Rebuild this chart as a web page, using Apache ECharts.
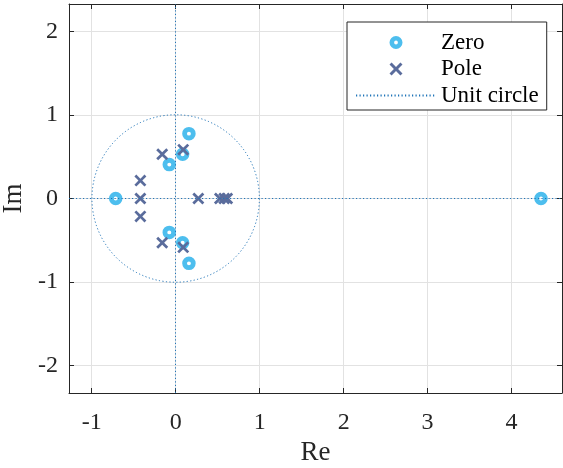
<!DOCTYPE html>
<html>
<head>
<meta charset="utf-8">
<title>Zero-pole plot</title>
<script src="https://cdn.jsdelivr.net/npm/echarts@6.0.0/dist/echarts.min.js"></script>
<style>
  html, body { margin: 0; padding: 0; background: #fff; }
  #chart { width: 563px; height: 468px; }
</style>
</head>
<body>
<div id="chart"></div>
<script>
// zeros
var zeroRe = [4.35, -0.714, -0.076, -0.076, 0.083, 0.083, 0.158, 0.158];
var zeroIm = [0, 0, 0.406, -0.406, 0.53, -0.53, 0.777, -0.777];
// poles
var poleRe = [0.09, 0.09, -0.16, -0.16, -0.42, -0.42, -0.42, 0.27, 0.527, 0.578, 0.614];
var poleIm = [0.585, -0.585, 0.53, -0.53, 0.215, -0.215, 0, 0, 0, 0, 0];
// axis limits and ticks
var xLim = [-1.27, 4.6];
var yLim = [-2.33, 2.33];
var xTicks = [-1, 0, 1, 2, 3, 4];
var yTicks = [-2, -1, 0, 1, 2];
var legendNames = ['Zero', 'Pole', 'Unit circle'];

var font = 'Liberation Serif';
var axisColor = '#262626';
var circleColor = '#1f74b8';
var zeroColor = '#4DBEEE';
var poleColor = '#5A6C9C';
// ring with a small hole, and a thick cross
var ringPath = 'path://M0,6.5A6.5,6.5,0,1,1,13,6.5A6.5,6.5,0,1,1,0,6.5ZM4.6,6.5A1.9,1.9,0,1,0,8.4,6.5A1.9,1.9,0,1,0,4.6,6.5Z';
var crossPath = 'path://M0,1.6L1.6,0L5,3.4L8.4,0L10,1.6L6.6,5L10,8.4L8.4,10L5,6.6L1.6,10L0,8.4L3.4,5Z';

function zip(a, b) {
  var out = [];
  for (var i = 0; i < a.length; i++) out.push([a[i], b[i]]);
  return out;
}

function mainAxis(lim, ticks, pos, nameText, nameGap, labelMargin) {
  return {
    type: 'value',
    position: pos,
    min: lim[0],
    max: lim[1],
    minInterval: 1,
    maxInterval: 1,
    splitNumber: ticks.length,
    name: nameText,
    nameLocation: 'middle',
    nameGap: nameGap,
    nameTextStyle: { fontFamily: font, fontSize: 27, color: axisColor },
    axisLine: { show: true, onZero: false, lineStyle: { color: axisColor, width: 1 } },
    axisTick: { show: true, inside: true, length: 5, lineStyle: { color: axisColor } },
    axisLabel: {
      show: true, fontFamily: font, fontSize: 24, color: axisColor, margin: labelMargin,
      showMinLabel: false, showMaxLabel: false,
      formatter: function (v) { return ticks.indexOf(v) >= 0 ? String(v) : ''; }
    },
    splitLine: { show: true, lineStyle: { color: '#e2e2e2', width: 1 } }
  };
}

function boxAxis(lim, pos) {
  return {
    type: 'value',
    position: pos,
    min: lim[0],
    max: lim[1],
    minInterval: 1,
    maxInterval: 1,
    axisLine: { show: true, onZero: false, lineStyle: { color: axisColor, width: 1 } },
    axisTick: { show: true, inside: true, length: 5, lineStyle: { color: axisColor } },
    axisLabel: { show: false },
    splitLine: { show: false }
  };
}

var chart = echarts.init(document.getElementById('chart'), null, { renderer: 'canvas' });

var option = {
  animation: false,
  backgroundColor: '#fff',
  grid: { left: 69, top: 4, right: 1, bottom: 75, containLabel: false, outerBoundsMode: 'none' },
  xAxis: [
    mainAxis(xLim, xTicks, 'bottom', 'Re', 42, 18),
    boxAxis(xLim, 'top')
  ],
  yAxis: [
    mainAxis(yLim, yTicks, 'left', 'Im', 42, 11),
    boxAxis(yLim, 'right')
  ],
  legend: {
    orient: 'vertical',
    left: 347,
    top: 22,
    data: [
      { name: legendNames[0], icon: ringPath },
      { name: legendNames[1], icon: crossPath },
      { name: legendNames[2], itemStyle: { opacity: 0 } }
    ],
    itemWidth: 80,
    itemHeight: 13,
    itemGap: 3.5,
    padding: [9, 8, 3, 8],
    borderColor: axisColor,
    borderWidth: 1,
    backgroundColor: '#fff',
    selectedMode: false,
    textStyle: { fontFamily: font, fontSize: 23, color: '#000' }
  },
  series: [
    {
      // dotted axes through the origin, also the legend entry for the circle
      name: 'Unit circle',
      type: 'line',
      data: [],
      symbol: 'none',
      lineStyle: { color: circleColor, width: 1, type: [1.2, 2.3] },
      markLine: {
        silent: true,
        symbol: 'none',
        label: { show: false },
        lineStyle: { color: circleColor, width: 1, type: [1.2, 2.3] },
        data: [{ xAxis: 0 }, { yAxis: 0 }]
      }
    },
    {
      type: 'custom',
      silent: true,
      data: [[0, 0, 1]],
      renderItem: function (params, api) {
        var c = api.coord([api.value(0), api.value(1)]);
        var s = api.size([api.value(2), api.value(2)]);
        return {
          type: 'circle',
          shape: { cx: c[0], cy: c[1], r: (s[0] + s[1]) / 2 },
          style: { fill: 'none', stroke: circleColor, lineWidth: 1, lineDash: [1.2, 2.3] }
        };
      }
    },
    {
      name: 'Zero',
      type: 'scatter',
      data: zip(zeroRe, zeroIm),
      symbol: ringPath,
      symbolSize: 13.5,
      itemStyle: { color: zeroColor, opacity: 1 },
      z: 3
    },
    {
      name: 'Pole',
      type: 'scatter',
      data: zip(poleRe, poleIm),
      symbol: crossPath,
      symbolSize: 12,
      itemStyle: { color: poleColor, opacity: 1 },
      z: 4
    }
  ]
};

chart.setOption(option);
window.addEventListener('resize', function () { chart.resize(); });
</script>
</body>
</html>
